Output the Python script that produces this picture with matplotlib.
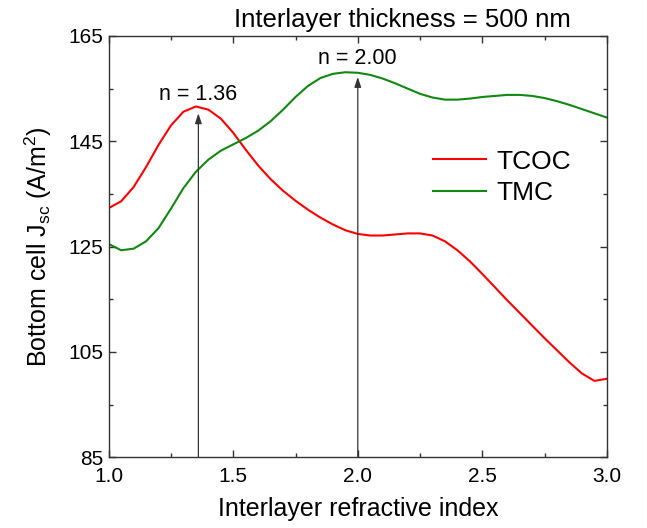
import numpy as np
import matplotlib.pyplot as plt
from matplotlib.ticker import MultipleLocator, FixedLocator

plt.rcParams['font.family'] = ['Liberation Sans', 'DejaVu Sans']
plt.rcParams['mathtext.fontset'] = 'custom'
plt.rcParams['mathtext.rm'] = 'Liberation Sans'
plt.rcParams['mathtext.it'] = 'Liberation Sans'

# interlayer refractive index
n_index = [1.00, 1.05, 1.10, 1.15, 1.20, 1.25, 1.30, 1.35, 1.40, 1.45,
           1.50, 1.55, 1.60, 1.65, 1.70, 1.75, 1.80, 1.85, 1.90, 1.95,
           2.00, 2.05, 2.10, 2.15, 2.20, 2.25, 2.30, 2.35, 2.40, 2.45,
           2.50, 2.55, 2.60, 2.65, 2.70, 2.75, 2.80, 2.85, 2.90, 2.95, 3.00]

# bottom cell Jsc (A/m^2)
jsc_tcoc = [132.3, 133.6, 136.3, 140.1, 144.3, 148.0, 150.6, 151.6, 151.0, 149.3,
            146.6, 143.4, 140.4, 137.8, 135.6, 133.7, 132.0, 130.5, 129.2, 128.1,
            127.4, 127.1, 127.1, 127.3, 127.5, 127.5, 127.1, 126.0, 124.3, 122.2,
            119.8, 117.3, 114.8, 112.4, 110.0, 107.6, 105.3, 103.0, 100.9, 99.5,
            99.9]
jsc_tmc = [125.5, 124.3, 124.6, 126.0, 128.5, 132.2, 136.1, 139.2, 141.5, 143.2,
           144.4, 145.6, 147.0, 148.8, 151.0, 153.4, 155.5, 157.0, 157.8, 158.1,
           158.0, 157.6, 156.9, 156.0, 155.0, 154.0, 153.3, 152.9, 152.9, 153.1,
           153.4, 153.6, 153.8, 153.8, 153.6, 153.2, 152.6, 151.9, 151.1, 150.3,
           149.5]

# optimum indices marked with arrows
n_peaks = [1.36, 2.00]
jsc_peaks = [150.3, 157.2]
peak_labels = ['n = 1.36', 'n = 2.00']
label_y = [152.8, 159.6]

fig, ax = plt.subplots(figsize=(6.47, 5.28), dpi=100)
fig.subplots_adjust(left=0.168, right=0.938, bottom=0.134, top=0.932)

ax.plot(n_index, jsc_tcoc, color='#ff0000', lw=1.5, label='TCOC')
ax.plot(n_index, jsc_tmc, color='#118811', lw=1.5, label='TMC')

for xp, yp, txt, ty in zip(n_peaks, jsc_peaks, peak_labels, label_y):
    ax.annotate('', xy=(xp, yp), xytext=(xp, 85),
                arrowprops=dict(arrowstyle='-|>,head_length=0.6,head_width=0.2',
                                color='#333333', lw=0.9,
                                mutation_scale=10, shrinkA=0, shrinkB=0))
    ax.text(xp, ty, txt, ha='center', va='baseline', fontsize=15.5)

ax.set_xlim(1.0, 3.0)
ax.set_ylim(85, 165)
ax.xaxis.set_major_locator(MultipleLocator(0.5))
ax.xaxis.set_minor_locator(MultipleLocator(0.25))
ax.yaxis.set_major_locator(FixedLocator([85, 105, 125, 145, 165]))
ax.yaxis.set_minor_locator(FixedLocator([95, 115, 135, 155]))
ax.xaxis.set_major_formatter(plt.FormatStrFormatter('%.1f'))
ax.tick_params(which='both', direction='in', top=True, right=True,
               labelsize=15, color='#333333')
ax.tick_params(which='major', length=5, width=1)
ax.tick_params(which='minor', length=3, width=1)
ax.tick_params(axis='x', which='major', pad=7)
ax.tick_params(axis='y', which='major', pad=4)
for s in ax.spines.values():
    s.set_color('#333333')
    s.set_linewidth(1.0)

ax.set_xlabel('Interlayer refractive index', fontsize=18, labelpad=8)
ax.set_ylabel('Bottom cell J$_{\\mathrm{sc}}$ (A/m$^2$)', fontsize=18, labelpad=10)
ax.text(0.59, 1.021, 'Interlayer thickness = 500 nm', transform=ax.transAxes,
        ha='center', va='baseline', fontsize=18.5)

ax.legend(loc='upper left', bbox_to_anchor=(0.63, 0.755), frameon=False,
          fontsize=19, handlelength=2.0, handletextpad=0.4, labelspacing=0.28,
          borderaxespad=0)

fig.savefig('out.png', dpi=100)
